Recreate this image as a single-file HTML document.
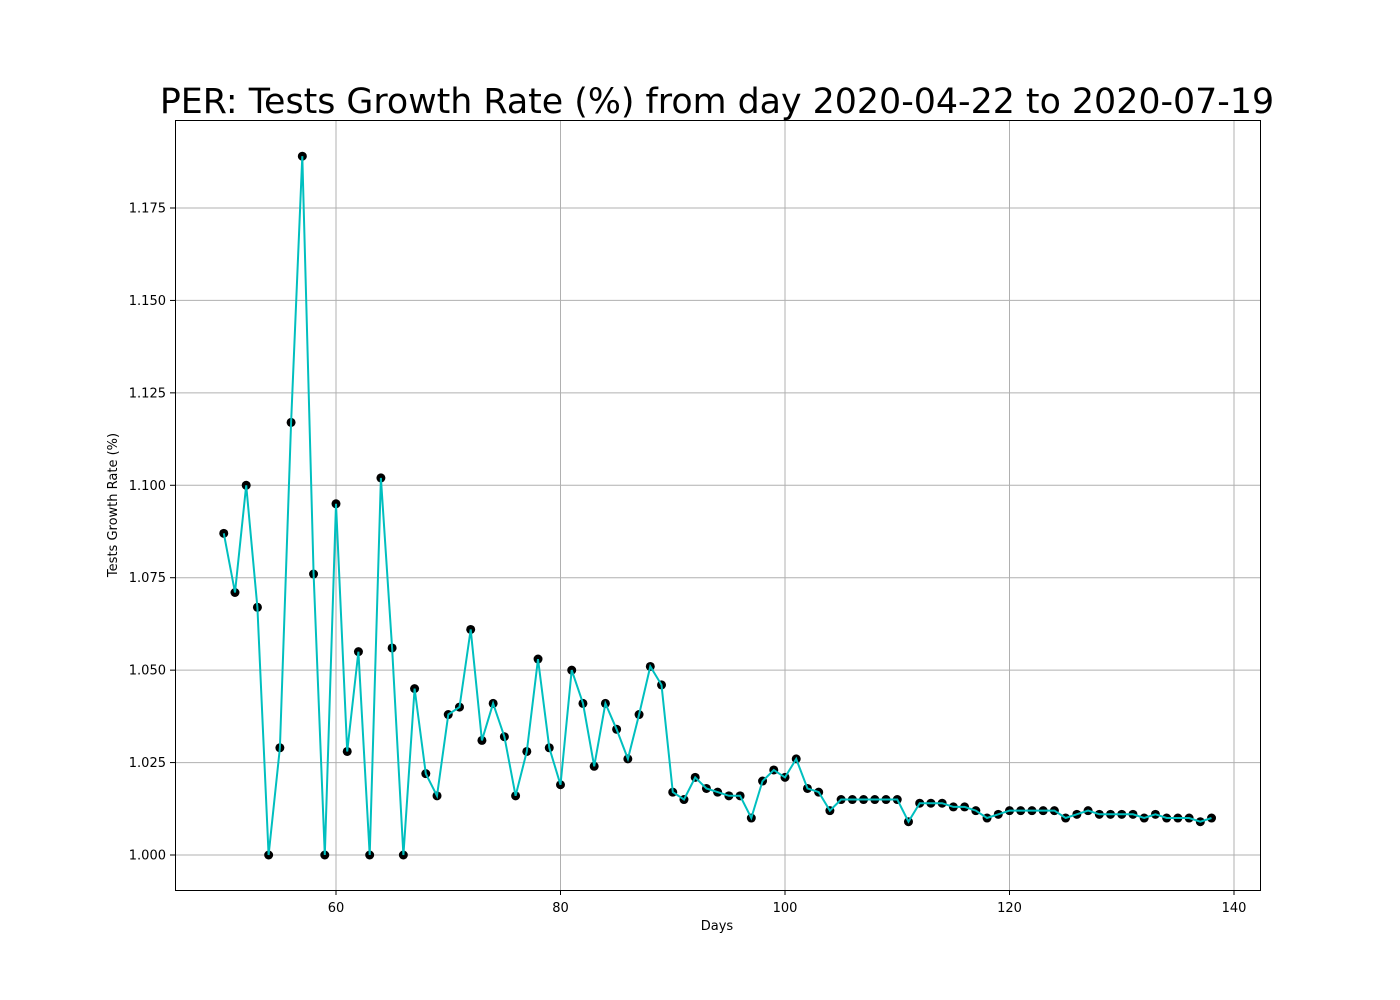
<!DOCTYPE html>
<html><head><meta charset="utf-8">
<style>
html,body{margin:0;padding:0;background:#fff;}
svg{display:block;font-family:"DejaVu Sans","Liberation Sans",sans-serif;}
</style></head>
<body>
<svg id="chart" width="1400" height="1000" viewBox="0 0 1400 1000">
<text x="717" y="113" text-anchor="middle" font-size="34.8" fill="#000">PER: Tests Growth Rate (%) from day 2020-04-22 to 2020-07-19</text>
<g id="grid"></g>
<g id="xticks"></g>
<g id="yticks"></g>
<g id="series"></g>
<rect x="175.5" y="120.5" width="1085" height="770" fill="none" stroke="#000" stroke-width="1"/>
<text x="717" y="930" text-anchor="middle" font-size="13">Days</text>
<text transform="translate(117,505) rotate(-90)" text-anchor="middle" font-size="13">Tests Growth Rate (%)</text>
</svg>
<script>
const startDay = 50;
const values = [1.087,1.071,1.100,1.067,1.000,1.029,1.117,1.189,1.076,1.000,
1.095,1.028,1.055,1.000,1.102,1.056,1.000,1.045,1.022,1.016,
1.038,1.040,1.061,1.031,1.041,1.032,1.016,1.028,1.053,1.029,
1.019,1.050,1.041,1.024,1.041,1.034,1.026,1.038,1.051,1.046,
1.017,1.015,1.021,1.018,1.017,1.016,1.016,1.010,1.020,1.023,
1.021,1.026,1.018,1.017,1.012,1.015,1.015,1.015,1.015,1.015,
1.015,1.009,1.014,1.014,1.014,1.013,1.013,1.012,1.010,1.011,
1.012,1.012,1.012,1.012,1.012,1.010,1.011,1.012,1.011,1.011,
1.011,1.011,1.010,1.011,1.010,1.010,1.010,1.009,1.010];
const xTicks = [60,80,100,120,140];
const yTicks = [1.000,1.025,1.050,1.075,1.100,1.125,1.150,1.175];

const NS = "http://www.w3.org/2000/svg";
function xs(d){ return 336 + (d-60)*(1234-336)/80; }
function ys(v){ return 855 - (v-1.0)*(855-208)/0.175; }
function mk(tag, attrs, parent){ const e=document.createElementNS(NS,tag); for(const k in attrs) e.setAttribute(k,attrs[k]); parent.appendChild(e); return e; }

const grid=document.getElementById('grid'), gx=document.getElementById('xticks'), gy=document.getElementById('yticks'), gs=document.getElementById('series');
xTicks.forEach(t=>{
  const x=xs(t);
  const g=mk('line',{x1:x,x2:x,y1:120,y2:890,stroke:'#b0b0b0','stroke-width':1},grid);
  
  
  const tk=mk('line',{x1:x,x2:x,y1:890,y2:895,stroke:'#000'},gx);
  
  
  const lb=mk('text',{x:x,y:912,'text-anchor':'middle','font-size':13},gx);
  lb.textContent=t;
  
  
});
yTicks.forEach(t=>{
  const y=ys(t);
  const g=mk('line',{x1:175,x2:1260,y1:y,y2:y,stroke:'#b0b0b0','stroke-width':1},grid);
  
  
  const tk=mk('line',{x1:170,x2:175,y1:y,y2:y,stroke:'#000'},gy);
  
  
  const lb=mk('text',{x:166,y:y+4.5,'text-anchor':'end','font-size':13},gy);
  lb.textContent=t.toFixed(3);
  
  
});
const pts=values.map((v,i)=>xs(startDay+i).toFixed(1)+','+ys(v).toFixed(1)).join(' ');
values.forEach((v,i)=>{
  const c=mk('circle',{cx:xs(startDay+i),cy:ys(v),r:4.5,fill:'#000'},gs);
  
  
});
const line=mk('polyline',{points:pts,fill:'none',stroke:'#00bfbf','stroke-width':2},gs);


</script>
</body></html>
